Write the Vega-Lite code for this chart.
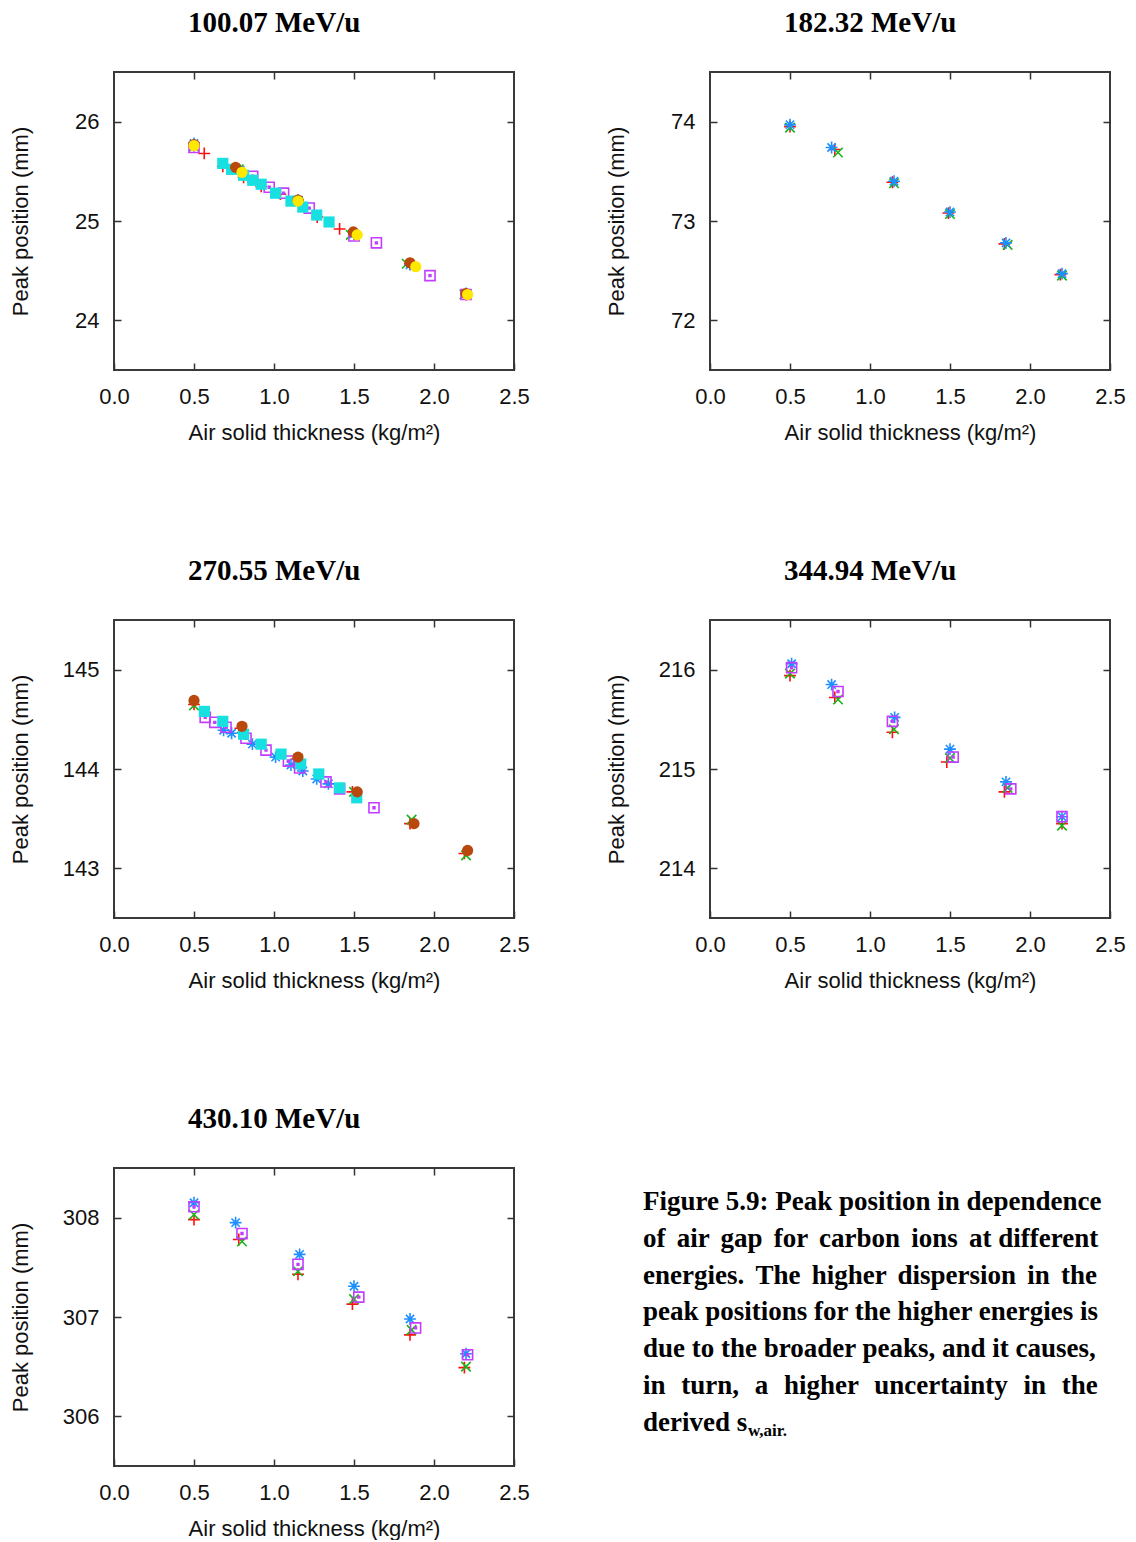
{
  "$schema": "https://vega.github.io/schema/vega-lite/v6.json",
  "padding": {"left": 7, "top": 8, "right": 0, "bottom": 0},
  "background": "white",
  "datasets": {
    "pts": [
      {"p":1,"s":"plus","x":0.5,"y":25.76},{"p":1,"s":"plus","x":0.564,"y":25.68},{"p":1,"s":"plus","x":0.68,"y":25.55},{"p":1,"s":"plus","x":0.78,"y":25.52},{"p":1,"s":"plus","x":0.81,"y":25.44},{"p":1,"s":"plus","x":0.92,"y":25.35},{"p":1,"s":"plus","x":1.04,"y":25.27},{"p":1,"s":"plus","x":1.15,"y":25.21},{"p":1,"s":"plus","x":1.27,"y":25.04},{"p":1,"s":"plus","x":1.41,"y":24.92},{"p":1,"s":"plus","x":1.5,"y":24.87},{"p":1,"s":"plus","x":1.85,"y":24.57},{"p":1,"s":"plus","x":2.2,"y":24.26},
      {"p":1,"s":"x","x":0.5,"y":25.75},{"p":1,"s":"x","x":0.78,"y":25.52},{"p":1,"s":"x","x":1.15,"y":25.2},{"p":1,"s":"x","x":1.48,"y":24.86},{"p":1,"s":"x","x":1.83,"y":24.57},{"p":1,"s":"x","x":2.19,"y":24.26},
      {"p":1,"s":"ast","x":0.5,"y":25.78},{"p":1,"s":"ast","x":0.79,"y":25.51},{"p":1,"s":"ast","x":1.15,"y":25.21},{"p":1,"s":"ast","x":1.5,"y":24.87},{"p":1,"s":"ast","x":1.85,"y":24.56},{"p":1,"s":"ast","x":2.2,"y":24.27},
      {"p":1,"s":"sq","x":0.5,"y":25.74},{"p":1,"s":"sq","x":0.867,"y":25.45},{"p":1,"s":"sq","x":0.97,"y":25.34},{"p":1,"s":"sq","x":1.06,"y":25.28},{"p":1,"s":"sq","x":1.22,"y":25.13},{"p":1,"s":"sq","x":1.5,"y":24.85},{"p":1,"s":"sq","x":1.64,"y":24.78},{"p":1,"s":"sq","x":1.975,"y":24.45},{"p":1,"s":"sq","x":2.2,"y":24.26},
      {"p":1,"s":"cyan","x":0.68,"y":25.58},{"p":1,"s":"cyan","x":0.735,"y":25.52},{"p":1,"s":"cyan","x":0.81,"y":25.46},{"p":1,"s":"cyan","x":0.867,"y":25.41},{"p":1,"s":"cyan","x":0.92,"y":25.37},{"p":1,"s":"cyan","x":1.01,"y":25.28},{"p":1,"s":"cyan","x":1.106,"y":25.2},{"p":1,"s":"cyan","x":1.18,"y":25.14},{"p":1,"s":"cyan","x":1.267,"y":25.06},{"p":1,"s":"cyan","x":1.344,"y":24.99},
      {"p":1,"s":"brown","x":0.5,"y":25.77},{"p":1,"s":"brown","x":0.76,"y":25.54},{"p":1,"s":"brown","x":1.15,"y":25.21},{"p":1,"s":"brown","x":1.496,"y":24.89},{"p":1,"s":"brown","x":1.85,"y":24.58},{"p":1,"s":"brown","x":2.2,"y":24.27},
      {"p":1,"s":"yellow","x":0.5,"y":25.76},{"p":1,"s":"yellow","x":0.8,"y":25.49},{"p":1,"s":"yellow","x":1.15,"y":25.2},{"p":1,"s":"yellow","x":1.52,"y":24.86},{"p":1,"s":"yellow","x":1.886,"y":24.54},{"p":1,"s":"yellow","x":2.21,"y":24.26},

      {"p":2,"s":"plus","x":0.5,"y":73.95},{"p":2,"s":"plus","x":0.78,"y":73.72},{"p":2,"s":"plus","x":1.14,"y":73.39},{"p":2,"s":"plus","x":1.49,"y":73.08},{"p":2,"s":"plus","x":1.84,"y":72.77},{"p":2,"s":"plus","x":2.19,"y":72.46},
      {"p":2,"s":"x","x":0.5,"y":73.94},{"p":2,"s":"x","x":0.8,"y":73.69},{"p":2,"s":"x","x":1.15,"y":73.38},{"p":2,"s":"x","x":1.5,"y":73.07},{"p":2,"s":"x","x":1.86,"y":72.76},{"p":2,"s":"x","x":2.2,"y":72.45},
      {"p":2,"s":"ast","x":0.5,"y":73.97},{"p":2,"s":"ast","x":0.76,"y":73.74},{"p":2,"s":"ast","x":1.15,"y":73.4},{"p":2,"s":"ast","x":1.5,"y":73.09},{"p":2,"s":"ast","x":1.85,"y":72.78},{"p":2,"s":"ast","x":2.2,"y":72.47},

      {"p":3,"s":"plus","x":0.5,"y":144.65},{"p":3,"s":"plus","x":0.79,"y":144.41},{"p":3,"s":"plus","x":1.14,"y":144.1},{"p":3,"s":"plus","x":1.49,"y":143.77},{"p":3,"s":"plus","x":1.85,"y":143.45},{"p":3,"s":"plus","x":2.19,"y":143.15},
      {"p":3,"s":"x","x":0.5,"y":144.64},{"p":3,"s":"x","x":0.8,"y":144.41},{"p":3,"s":"x","x":1.15,"y":144.1},{"p":3,"s":"x","x":1.5,"y":143.77},{"p":3,"s":"x","x":1.86,"y":143.49},{"p":3,"s":"x","x":2.2,"y":143.13},
      {"p":3,"s":"ast","x":0.685,"y":144.39},{"p":3,"s":"ast","x":0.735,"y":144.36},{"p":3,"s":"ast","x":0.865,"y":144.25},{"p":3,"s":"ast","x":1.01,"y":144.12},{"p":3,"s":"ast","x":1.106,"y":144.04},{"p":3,"s":"ast","x":1.18,"y":143.98},{"p":3,"s":"ast","x":1.267,"y":143.9},{"p":3,"s":"ast","x":1.34,"y":143.85},
      {"p":3,"s":"sq","x":0.57,"y":144.52},{"p":3,"s":"sq","x":0.63,"y":144.47},{"p":3,"s":"sq","x":0.7,"y":144.42},{"p":3,"s":"sq","x":0.825,"y":144.31},{"p":3,"s":"sq","x":0.95,"y":144.19},{"p":3,"s":"sq","x":1.09,"y":144.08},{"p":3,"s":"sq","x":1.16,"y":144.01},{"p":3,"s":"sq","x":1.325,"y":143.87},{"p":3,"s":"sq","x":1.41,"y":143.8},{"p":3,"s":"sq","x":1.625,"y":143.61},
      {"p":3,"s":"cyan","x":0.565,"y":144.58},{"p":3,"s":"cyan","x":0.68,"y":144.48},{"p":3,"s":"cyan","x":0.81,"y":144.35},{"p":3,"s":"cyan","x":0.92,"y":144.25},{"p":3,"s":"cyan","x":1.044,"y":144.15},{"p":3,"s":"cyan","x":1.167,"y":144.05},{"p":3,"s":"cyan","x":1.28,"y":143.95},{"p":3,"s":"cyan","x":1.41,"y":143.81},{"p":3,"s":"cyan","x":1.517,"y":143.71},
      {"p":3,"s":"brown","x":0.5,"y":144.69},{"p":3,"s":"brown","x":0.8,"y":144.43},{"p":3,"s":"brown","x":1.15,"y":144.12},{"p":3,"s":"brown","x":1.52,"y":143.77},{"p":3,"s":"brown","x":1.875,"y":143.45},{"p":3,"s":"brown","x":2.21,"y":143.18},

      {"p":4,"s":"plus","x":0.5,"y":215.94},{"p":4,"s":"plus","x":0.78,"y":215.72},{"p":4,"s":"plus","x":1.14,"y":215.37},{"p":4,"s":"plus","x":1.48,"y":215.07},{"p":4,"s":"plus","x":1.84,"y":214.77},{"p":4,"s":"plus","x":2.2,"y":214.45},
      {"p":4,"s":"x","x":0.5,"y":215.96},{"p":4,"s":"x","x":0.8,"y":215.7},{"p":4,"s":"x","x":1.15,"y":215.4},{"p":4,"s":"x","x":1.5,"y":215.11},{"p":4,"s":"x","x":1.86,"y":214.81},{"p":4,"s":"x","x":2.2,"y":214.43},
      {"p":4,"s":"ast","x":0.51,"y":216.06},{"p":4,"s":"ast","x":0.76,"y":215.85},{"p":4,"s":"ast","x":1.154,"y":215.52},{"p":4,"s":"ast","x":1.5,"y":215.2},{"p":4,"s":"ast","x":1.85,"y":214.87},{"p":4,"s":"ast","x":2.2,"y":214.52},
      {"p":4,"s":"sq","x":0.51,"y":216.02},{"p":4,"s":"sq","x":0.8,"y":215.78},{"p":4,"s":"sq","x":1.14,"y":215.48},{"p":4,"s":"sq","x":1.52,"y":215.12},{"p":4,"s":"sq","x":1.88,"y":214.8},{"p":4,"s":"sq","x":2.2,"y":214.52},

      {"p":5,"s":"plus","x":0.5,"y":307.98},{"p":5,"s":"plus","x":0.78,"y":307.78},{"p":5,"s":"plus","x":1.15,"y":307.43},{"p":5,"s":"plus","x":1.49,"y":307.13},{"p":5,"s":"plus","x":1.85,"y":306.82},{"p":5,"s":"plus","x":2.19,"y":306.49},
      {"p":5,"s":"x","x":0.5,"y":308.03},{"p":5,"s":"x","x":0.8,"y":307.76},{"p":5,"s":"x","x":1.15,"y":307.46},{"p":5,"s":"x","x":1.5,"y":307.18},{"p":5,"s":"x","x":1.86,"y":306.87},{"p":5,"s":"x","x":2.2,"y":306.5},
      {"p":5,"s":"ast","x":0.5,"y":308.15},{"p":5,"s":"ast","x":0.76,"y":307.95},{"p":5,"s":"ast","x":1.16,"y":307.63},{"p":5,"s":"ast","x":1.5,"y":307.31},{"p":5,"s":"ast","x":1.85,"y":306.98},{"p":5,"s":"ast","x":2.2,"y":306.63},
      {"p":5,"s":"sq","x":0.5,"y":308.11},{"p":5,"s":"sq","x":0.8,"y":307.84},{"p":5,"s":"sq","x":1.15,"y":307.53},{"p":5,"s":"sq","x":1.53,"y":307.2},{"p":5,"s":"sq","x":1.885,"y":306.89},{"p":5,"s":"sq","x":2.21,"y":306.62}
    ],
    "cap": [
      {"part":"main","line":1,"text":"Figure 5.9: Peak position in dependence"},
      {"part":"main","line":2,"text":"of \u2006air \u2006gap \u2006for \u2006carbon \u2006ions \u2006at different"},
      {"part":"main","line":3,"text":"energies. \u2006The \u2006higher \u2006dispersion \u2006in \u2006the"},
      {"part":"main","line":4,"text":"peak positions for the higher energies is"},
      {"part":"main","line":5,"text":"due to the broader peaks, and it causes,"},
      {"part":"main","line":6,"text":"in \u2004turn, \u2004a \u2004higher \u2004uncertainty \u2004in \u2004the"},
      {"part":"main","line":7,"text":"derived s"},
      {"part":"sub","line":7,"text":"w,air."}
    ]
  },
  "config": {
    "view": {"stroke": "#3a3a3a", "strokeWidth": 2},
    "axis": {"domain": false, "grid": false, "tickSize": -7, "tickColor": "#333", "tickWidth": 1.5, "labelFont": "Liberation Sans", "labelFontSize": 22, "labelColor": "#111", "titleFont": "Liberation Sans", "titleFontSize": 22, "titleFontWeight": "normal", "titleColor": "#111", "labelFlush": false, "labelOverlap": false},
    "axisBottom": {"labelPadding": 23, "titlePadding": 15},
    "axisLeft": {"labelPadding": 22, "titleX": -82},
    "title": {"font": "Liberation Serif", "fontSize": 29, "fontWeight": "bold", "color": "#000", "anchor": "middle", "frame": "bounds", "offset": 33, "dx": 5}
  },
  "columns": 2,
  "bounds": "flush",
  "spacing": {"row": 250, "column": 196},
  "concat": [
    {
      "title": {"text": "100.07 MeV/u"},
      "width": 400, "height": 298,
      "data": {"name": "pts"},
      "transform": [{"filter": "datum.p == 1"}],
      "layer": [
        {"transform": [{"filter": "indexof(['plus','x','ast','sq'], datum.s) >= 0"}],
         "mark": {"type": "point", "filled": false, "opacity": 1, "size": 140, "strokeWidth": 1.6},
         "encoding": {
           "x": {"field": "x", "type": "quantitative", "scale": {"domain": [0, 2.5], "nice": false, "zero": false}, "axis": {"orient": "bottom", "values": [0, 0.5, 1, 1.5, 2, 2.5], "format": ".1f", "title": "Air solid thickness (kg/m²)"}},
           "y": {"field": "y", "type": "quantitative", "scale": {"domain": [23.5, 26.5], "nice": false, "zero": false}, "axis": {"orient": "left", "values": [24, 25, 26], "title": "Peak position (mm)"}},
           "color": {"field": "s", "type": "nominal", "legend": null, "scale": {"domain": ["plus","x","ast","sq","cyan","brown","yellow"], "range": ["#ff1010","#18b418","#1e8fff","#c43cff","#19e0e0","#b8480e","#ffe800"]}},
           "shape": {"field": "s", "type": "nominal", "legend": null, "scale": {"domain": ["plus","x","ast","sq","cyan","brown","yellow"], "range": ["M-1,0H1M0,-1V1","M-0.8,-0.8L0.8,0.8M-0.8,0.8L0.8,-0.8","M-1,0H1M0,-1V1M-0.7,-0.7L0.7,0.7M-0.7,0.7L0.7,-0.7","M-0.85,-0.85H0.85V0.85H-0.85ZM-0.15,-0.15H0.15V0.15H-0.15Z","square","circle","circle"]}}
         }},
        {"transform": [{"filter": "indexof(['cyan','brown','yellow'], datum.s) >= 0"}],
         "mark": {"type": "point", "filled": true, "opacity": 1, "size": 125},
         "encoding": {
           "x": {"field": "x", "type": "quantitative", "scale": {"domain": [0, 2.5], "nice": false, "zero": false}, "axis": {"orient": "top", "values": [0.5, 1, 1.5, 2], "labels": false, "title": null}},
           "y": {"field": "y", "type": "quantitative", "scale": {"domain": [23.5, 26.5], "nice": false, "zero": false}, "axis": {"orient": "right", "values": [24, 25, 26], "labels": false, "title": null}},
           "color": {"field": "s", "type": "nominal", "legend": null, "scale": {"domain": ["plus","x","ast","sq","cyan","brown","yellow"], "range": ["#ff1010","#18b418","#1e8fff","#c43cff","#19e0e0","#b8480e","#ffe800"]}},
           "shape": {"field": "s", "type": "nominal", "legend": null, "scale": {"domain": ["plus","x","ast","sq","cyan","brown","yellow"], "range": ["M-1,0H1M0,-1V1","M-0.8,-0.8L0.8,0.8M-0.8,0.8L0.8,-0.8","M-1,0H1M0,-1V1M-0.7,-0.7L0.7,0.7M-0.7,0.7L0.7,-0.7","M-0.85,-0.85H0.85V0.85H-0.85ZM-0.15,-0.15H0.15V0.15H-0.15Z","square","circle","circle"]}}
         }}
      ],
      "resolve": {"axis": {"x": "independent", "y": "independent"}}
    },
    {
      "title": {"text": "182.32 MeV/u"},
      "width": 400, "height": 298,
      "data": {"name": "pts"},
      "transform": [{"filter": "datum.p == 2"}],
      "layer": [
        {"transform": [{"filter": "indexof(['plus','x','ast','sq'], datum.s) >= 0"}],
         "mark": {"type": "point", "filled": false, "opacity": 1, "size": 140, "strokeWidth": 1.6},
         "encoding": {
           "x": {"field": "x", "type": "quantitative", "scale": {"domain": [0, 2.5], "nice": false, "zero": false}, "axis": {"orient": "bottom", "values": [0, 0.5, 1, 1.5, 2, 2.5], "format": ".1f", "title": "Air solid thickness (kg/m²)"}},
           "y": {"field": "y", "type": "quantitative", "scale": {"domain": [71.5, 74.5], "nice": false, "zero": false}, "axis": {"orient": "left", "values": [72, 73, 74], "title": "Peak position (mm)"}},
           "color": {"field": "s", "type": "nominal", "legend": null, "scale": {"domain": ["plus","x","ast","sq","cyan","brown","yellow"], "range": ["#ff1010","#18b418","#1e8fff","#c43cff","#19e0e0","#b8480e","#ffe800"]}},
           "shape": {"field": "s", "type": "nominal", "legend": null, "scale": {"domain": ["plus","x","ast","sq","cyan","brown","yellow"], "range": ["M-1,0H1M0,-1V1","M-0.8,-0.8L0.8,0.8M-0.8,0.8L0.8,-0.8","M-1,0H1M0,-1V1M-0.7,-0.7L0.7,0.7M-0.7,0.7L0.7,-0.7","M-0.85,-0.85H0.85V0.85H-0.85ZM-0.15,-0.15H0.15V0.15H-0.15Z","square","circle","circle"]}}
         }},
        {"transform": [{"filter": "indexof(['cyan','brown','yellow'], datum.s) >= 0"}],
         "mark": {"type": "point", "filled": true, "opacity": 1, "size": 125},
         "encoding": {
           "x": {"field": "x", "type": "quantitative", "scale": {"domain": [0, 2.5], "nice": false, "zero": false}, "axis": {"orient": "top", "values": [0.5, 1, 1.5, 2], "labels": false, "title": null}},
           "y": {"field": "y", "type": "quantitative", "scale": {"domain": [71.5, 74.5], "nice": false, "zero": false}, "axis": {"orient": "right", "values": [72, 73, 74], "labels": false, "title": null}}
         }}
      ],
      "resolve": {"axis": {"x": "independent", "y": "independent"}}
    },
    {
      "title": {"text": "270.55 MeV/u"},
      "width": 400, "height": 298,
      "data": {"name": "pts"},
      "transform": [{"filter": "datum.p == 3"}],
      "layer": [
        {"transform": [{"filter": "indexof(['plus','x','ast','sq'], datum.s) >= 0"}],
         "mark": {"type": "point", "filled": false, "opacity": 1, "size": 140, "strokeWidth": 1.6},
         "encoding": {
           "x": {"field": "x", "type": "quantitative", "scale": {"domain": [0, 2.5], "nice": false, "zero": false}, "axis": {"orient": "bottom", "values": [0, 0.5, 1, 1.5, 2, 2.5], "format": ".1f", "title": "Air solid thickness (kg/m²)"}},
           "y": {"field": "y", "type": "quantitative", "scale": {"domain": [142.5, 145.5], "nice": false, "zero": false}, "axis": {"orient": "left", "values": [143, 144, 145], "title": "Peak position (mm)"}},
           "color": {"field": "s", "type": "nominal", "legend": null, "scale": {"domain": ["plus","x","ast","sq","cyan","brown","yellow"], "range": ["#ff1010","#18b418","#1e8fff","#c43cff","#19e0e0","#b8480e","#ffe800"]}},
           "shape": {"field": "s", "type": "nominal", "legend": null, "scale": {"domain": ["plus","x","ast","sq","cyan","brown","yellow"], "range": ["M-1,0H1M0,-1V1","M-0.8,-0.8L0.8,0.8M-0.8,0.8L0.8,-0.8","M-1,0H1M0,-1V1M-0.7,-0.7L0.7,0.7M-0.7,0.7L0.7,-0.7","M-0.85,-0.85H0.85V0.85H-0.85ZM-0.15,-0.15H0.15V0.15H-0.15Z","square","circle","circle"]}}
         }},
        {"transform": [{"filter": "indexof(['cyan','brown','yellow'], datum.s) >= 0"}],
         "mark": {"type": "point", "filled": true, "opacity": 1, "size": 125},
         "encoding": {
           "x": {"field": "x", "type": "quantitative", "scale": {"domain": [0, 2.5], "nice": false, "zero": false}, "axis": {"orient": "top", "values": [0.5, 1, 1.5, 2], "labels": false, "title": null}},
           "y": {"field": "y", "type": "quantitative", "scale": {"domain": [142.5, 145.5], "nice": false, "zero": false}, "axis": {"orient": "right", "values": [143, 144, 145], "labels": false, "title": null}},
           "color": {"field": "s", "type": "nominal", "legend": null, "scale": {"domain": ["plus","x","ast","sq","cyan","brown","yellow"], "range": ["#ff1010","#18b418","#1e8fff","#c43cff","#19e0e0","#b8480e","#ffe800"]}},
           "shape": {"field": "s", "type": "nominal", "legend": null, "scale": {"domain": ["plus","x","ast","sq","cyan","brown","yellow"], "range": ["M-1,0H1M0,-1V1","M-0.8,-0.8L0.8,0.8M-0.8,0.8L0.8,-0.8","M-1,0H1M0,-1V1M-0.7,-0.7L0.7,0.7M-0.7,0.7L0.7,-0.7","M-0.85,-0.85H0.85V0.85H-0.85ZM-0.15,-0.15H0.15V0.15H-0.15Z","square","circle","circle"]}}
         }}
      ],
      "resolve": {"axis": {"x": "independent", "y": "independent"}}
    },
    {
      "title": {"text": "344.94 MeV/u"},
      "width": 400, "height": 298,
      "data": {"name": "pts"},
      "transform": [{"filter": "datum.p == 4"}],
      "layer": [
        {"transform": [{"filter": "indexof(['plus','x','ast','sq'], datum.s) >= 0"}],
         "mark": {"type": "point", "filled": false, "opacity": 1, "size": 140, "strokeWidth": 1.6},
         "encoding": {
           "x": {"field": "x", "type": "quantitative", "scale": {"domain": [0, 2.5], "nice": false, "zero": false}, "axis": {"orient": "bottom", "values": [0, 0.5, 1, 1.5, 2, 2.5], "format": ".1f", "title": "Air solid thickness (kg/m²)"}},
           "y": {"field": "y", "type": "quantitative", "scale": {"domain": [213.5, 216.5], "nice": false, "zero": false}, "axis": {"orient": "left", "values": [214, 215, 216], "title": "Peak position (mm)"}},
           "color": {"field": "s", "type": "nominal", "legend": null, "scale": {"domain": ["plus","x","ast","sq","cyan","brown","yellow"], "range": ["#ff1010","#18b418","#1e8fff","#c43cff","#19e0e0","#b8480e","#ffe800"]}},
           "shape": {"field": "s", "type": "nominal", "legend": null, "scale": {"domain": ["plus","x","ast","sq","cyan","brown","yellow"], "range": ["M-1,0H1M0,-1V1","M-0.8,-0.8L0.8,0.8M-0.8,0.8L0.8,-0.8","M-1,0H1M0,-1V1M-0.7,-0.7L0.7,0.7M-0.7,0.7L0.7,-0.7","M-0.85,-0.85H0.85V0.85H-0.85ZM-0.15,-0.15H0.15V0.15H-0.15Z","square","circle","circle"]}}
         }},
        {"transform": [{"filter": "indexof(['cyan','brown','yellow'], datum.s) >= 0"}],
         "mark": {"type": "point", "filled": true, "opacity": 1, "size": 125},
         "encoding": {
           "x": {"field": "x", "type": "quantitative", "scale": {"domain": [0, 2.5], "nice": false, "zero": false}, "axis": {"orient": "top", "values": [0.5, 1, 1.5, 2], "labels": false, "title": null}},
           "y": {"field": "y", "type": "quantitative", "scale": {"domain": [213.5, 216.5], "nice": false, "zero": false}, "axis": {"orient": "right", "values": [214, 215, 216], "labels": false, "title": null}}
         }}
      ],
      "resolve": {"axis": {"x": "independent", "y": "independent"}}
    },
    {
      "title": {"text": "430.10 MeV/u"},
      "width": 400, "height": 298,
      "data": {"name": "pts"},
      "transform": [{"filter": "datum.p == 5"}],
      "layer": [
        {"transform": [{"filter": "indexof(['plus','x','ast','sq'], datum.s) >= 0"}],
         "mark": {"type": "point", "filled": false, "opacity": 1, "size": 140, "strokeWidth": 1.6},
         "encoding": {
           "x": {"field": "x", "type": "quantitative", "scale": {"domain": [0, 2.5], "nice": false, "zero": false}, "axis": {"orient": "bottom", "values": [0, 0.5, 1, 1.5, 2, 2.5], "format": ".1f", "title": "Air solid thickness (kg/m²)"}},
           "y": {"field": "y", "type": "quantitative", "scale": {"domain": [305.5, 308.5], "nice": false, "zero": false}, "axis": {"orient": "left", "values": [306, 307, 308], "title": "Peak position (mm)"}},
           "color": {"field": "s", "type": "nominal", "legend": null, "scale": {"domain": ["plus","x","ast","sq","cyan","brown","yellow"], "range": ["#ff1010","#18b418","#1e8fff","#c43cff","#19e0e0","#b8480e","#ffe800"]}},
           "shape": {"field": "s", "type": "nominal", "legend": null, "scale": {"domain": ["plus","x","ast","sq","cyan","brown","yellow"], "range": ["M-1,0H1M0,-1V1","M-0.8,-0.8L0.8,0.8M-0.8,0.8L0.8,-0.8","M-1,0H1M0,-1V1M-0.7,-0.7L0.7,0.7M-0.7,0.7L0.7,-0.7","M-0.85,-0.85H0.85V0.85H-0.85ZM-0.15,-0.15H0.15V0.15H-0.15Z","square","circle","circle"]}}
         }},
        {"transform": [{"filter": "indexof(['cyan','brown','yellow'], datum.s) >= 0"}],
         "mark": {"type": "point", "filled": true, "opacity": 1, "size": 125},
         "encoding": {
           "x": {"field": "x", "type": "quantitative", "scale": {"domain": [0, 2.5], "nice": false, "zero": false}, "axis": {"orient": "top", "values": [0.5, 1, 1.5, 2], "labels": false, "title": null}},
           "y": {"field": "y", "type": "quantitative", "scale": {"domain": [305.5, 308.5], "nice": false, "zero": false}, "axis": {"orient": "right", "values": [306, 307, 308], "labels": false, "title": null}}
         }}
      ],
      "resolve": {"axis": {"x": "independent", "y": "independent"}}
    },
    {
      "width": 400, "height": 298,
      "view": {"stroke": null},
      "data": {"name": "cap"},
      "layer": [
        {"transform": [{"filter": "datum.part == 'main'"}],
         "mark": {"type": "text", "align": "left", "baseline": "middle", "font": "Liberation Serif", "fontWeight": "bold", "fontSize": 27, "color": "#000", "dx": -67},
         "encoding": {
           "x": {"value": 0},
           "y": {"field": "line", "type": "quantitative", "scale": {"domain": [0.076, 8.174], "reverse": true, "nice": false, "zero": false}, "axis": null},
           "text": {"field": "text"}
         }},
        {"transform": [{"filter": "datum.part == 'sub'"}],
         "mark": {"type": "text", "align": "left", "baseline": "middle", "font": "Liberation Serif", "fontWeight": "bold", "fontSize": 17, "color": "#000", "dx": 38, "dy": 8},
         "encoding": {
           "x": {"value": 0},
           "y": {"field": "line", "type": "quantitative", "scale": {"domain": [0.076, 8.174], "reverse": true, "nice": false, "zero": false}, "axis": null},
           "text": {"field": "text"}
         }}
      ]
    }
  ]
}
